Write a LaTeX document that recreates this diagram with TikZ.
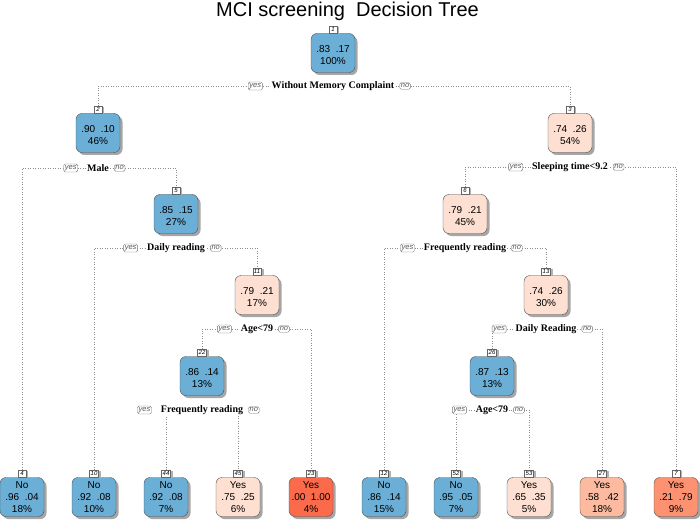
\documentclass[tikz,border=0pt]{standalone}
\usepackage{fontspec}
\setmainfont{Liberation Serif}
\setsansfont{Liberation Sans}
\usetikzlibrary{positioning,shadows,backgrounds}
\definecolor{blu}{HTML}{6BAED6}
\definecolor{pnk}{HTML}{FEE0D2}
\definecolor{sal}{HTML}{FCBBA1}
\definecolor{org}{HTML}{FC9272}
\definecolor{rd}{HTML}{FB6A4A}
\tikzset{
  tnode/.style={draw=black!70, rounded corners=6pt, minimum width=44pt,
    minimum height=39pt, align=center, inner sep=0.5pt,
    font=\sffamily\fontsize{10}{12}\selectfont,
    drop shadow={shadow xshift=2.5pt, shadow yshift=-2.5pt, fill=black!35, opacity=1}},
  nlab/.style={draw=black!60, fill=white, inner sep=1pt, minimum width=7.5pt,
    minimum height=7pt, font=\sffamily\itshape\fontsize{6}{6.5}\selectfont,
    drop shadow={shadow xshift=2.5pt, shadow yshift=-1pt, fill=black!30, opacity=1}},
  split/.style={fill=white, inner sep=1pt, font=\bfseries\fontsize{10}{12}\selectfont},
  yn/.style={draw=black!55, rounded corners=1.5pt, fill=white, inner sep=1.2pt,
    font=\sffamily\itshape\fontsize{7.5}{8}\selectfont, text=black!65},
  edge/.style={draw=black!45, dotted, line width=0.5pt}
}
\begin{document}
\begin{tikzpicture}[x=1pt, y=-1pt]
\useasboundingbox (0,0) rectangle (700,521);
\node[anchor=base, font=\sffamily\fontsize{20}{22}\selectfont] (title) at (347.5,17) {MCI screening\ \ Decision Tree};

% inner nodes
\node[tnode, fill=blu] (n1) at (333,53) {\mbox{}\\.83\ \ .17\\100\%};
\node[tnode, fill=blu] (n2) at (98,133) {\mbox{}\\.90\ \ .10\\46\%};
\node[tnode, fill=pnk] (n3) at (570,133) {\mbox{}\\.74\ \ .26\\54\%};
\node[tnode, fill=blu] (n5) at (176,214) {\mbox{}\\.85\ \ .15\\27\%};
\node[tnode, fill=pnk] (n6) at (465,214) {\mbox{}\\.79\ \ .21\\45\%};
\node[tnode, fill=pnk] (n11) at (257,295) {\mbox{}\\.79\ \ .21\\17\%};
\node[tnode, fill=pnk] (n13) at (546,295) {\mbox{}\\.74\ \ .26\\30\%};
\node[tnode, fill=blu] (n22) at (202,376) {\mbox{}\\.86\ \ .14\\13\%};
\node[tnode, fill=blu] (n26) at (492,376) {\mbox{}\\.87\ \ .13\\13\%};

% leaves
\node[tnode, fill=blu] (n4) at (22,497) {No\\.96\ \ .04\\18\%};
\node[tnode, fill=blu] (n10) at (94,497) {No\\.92\ \ .08\\10\%};
\node[tnode, fill=blu] (n44) at (166,497) {No\\.92\ \ .08\\7\%};
\node[tnode, fill=pnk] (n45) at (238,497) {Yes\\.75\ \ .25\\6\%};
\node[tnode, fill=rd] (n23) at (311,497) {Yes\\.00\ \ 1.00\\4\%};
\node[tnode, fill=blu] (n12) at (384,497) {No\\.86\ \ .14\\15\%};
\node[tnode, fill=blu] (n52) at (456,497) {No\\.95\ \ .05\\7\%};
\node[tnode, fill=pnk] (n53) at (529,497) {Yes\\.65\ \ .35\\5\%};
\node[tnode, fill=sal] (n27) at (602,497) {Yes\\.58\ \ .42\\18\%};
\node[tnode, fill=org] (n7) at (676,497) {Yes\\.21\ \ .79\\9\%};

% node numbers
\node[nlab, above=0pt of n1] (l1) {1};
\node[nlab, above=0pt of n2] (l2) {2};
\node[nlab, above=0pt of n3] (l3) {3};
\node[nlab, above=0pt of n5] (l5) {5};
\node[nlab, above=0pt of n6] (l6) {6};
\node[nlab, above=0pt of n11] (l11) {11};
\node[nlab, above=0pt of n13] (l13) {13};
\node[nlab, above=0pt of n22] (l22) {22};
\node[nlab, above=0pt of n26] (l26) {26};
\node[nlab, above=0pt of n4] (l4) {4};
\node[nlab, above=0pt of n10] (l10) {10};
\node[nlab, above=0pt of n44] (l44) {44};
\node[nlab, above=0pt of n45] (l45) {45};
\node[nlab, above=0pt of n23] (l23) {23};
\node[nlab, above=0pt of n12] (l12) {12};
\node[nlab, above=0pt of n52] (l52) {52};
\node[nlab, above=0pt of n53] (l53) {53};
\node[nlab, above=0pt of n27] (l27) {27};
\node[nlab, above=0pt of n7] (l7) {7};

% split labels
\node[split] (s1) at (333,86) {Without Memory Complaint};
\node[split] (s2) at (98,168) {Male};
\node[split] (s3) at (570,167) {Sleeping time<9.2};
\node[split] (s5) at (176,248) {Daily reading};
\node[split] (s6) at (465,248) {Frequently reading};
\node[split] (s11) at (257,329) {Age<79};
\node[split] (s13) at (546,329) {Daily Reading};
\node[split] (s22) at (202,410) {Frequently reading};
\node[split] (s26) at (492,410) {Age<79};
\foreach \s in {s1,s2,s3,s5,s6,s11,s13,s22,s26}{
  \node[yn, left=8pt of \s] (\s y) {yes};
  \node[yn, right=4pt of \s] (\s n) {no};
}

\begin{scope}[on background layer]
\draw[edge] (l2.north) |- (s1.center) -| (l3.north);
\draw[edge] (l4.north) |- (s2.center) -| (l5.north);
\draw[edge] (l6.north) |- (s3.center) -| (l7.north);
\draw[edge] (l10.north) |- (s5.center) -| (l11.north);
\draw[edge] (l12.north) |- (s6.center) -| (l13.north);
\draw[edge] (l22.north) |- (s11.center) -| (l23.north);
\draw[edge] (l26.north) |- (s13.center) -| (l27.north);
\draw[edge] (l44.north) |- (s22.center) -| (l45.north);
\draw[edge] (l52.north) |- (s26.center) -| (l53.north);
\end{scope}
\end{tikzpicture}
\end{document}
